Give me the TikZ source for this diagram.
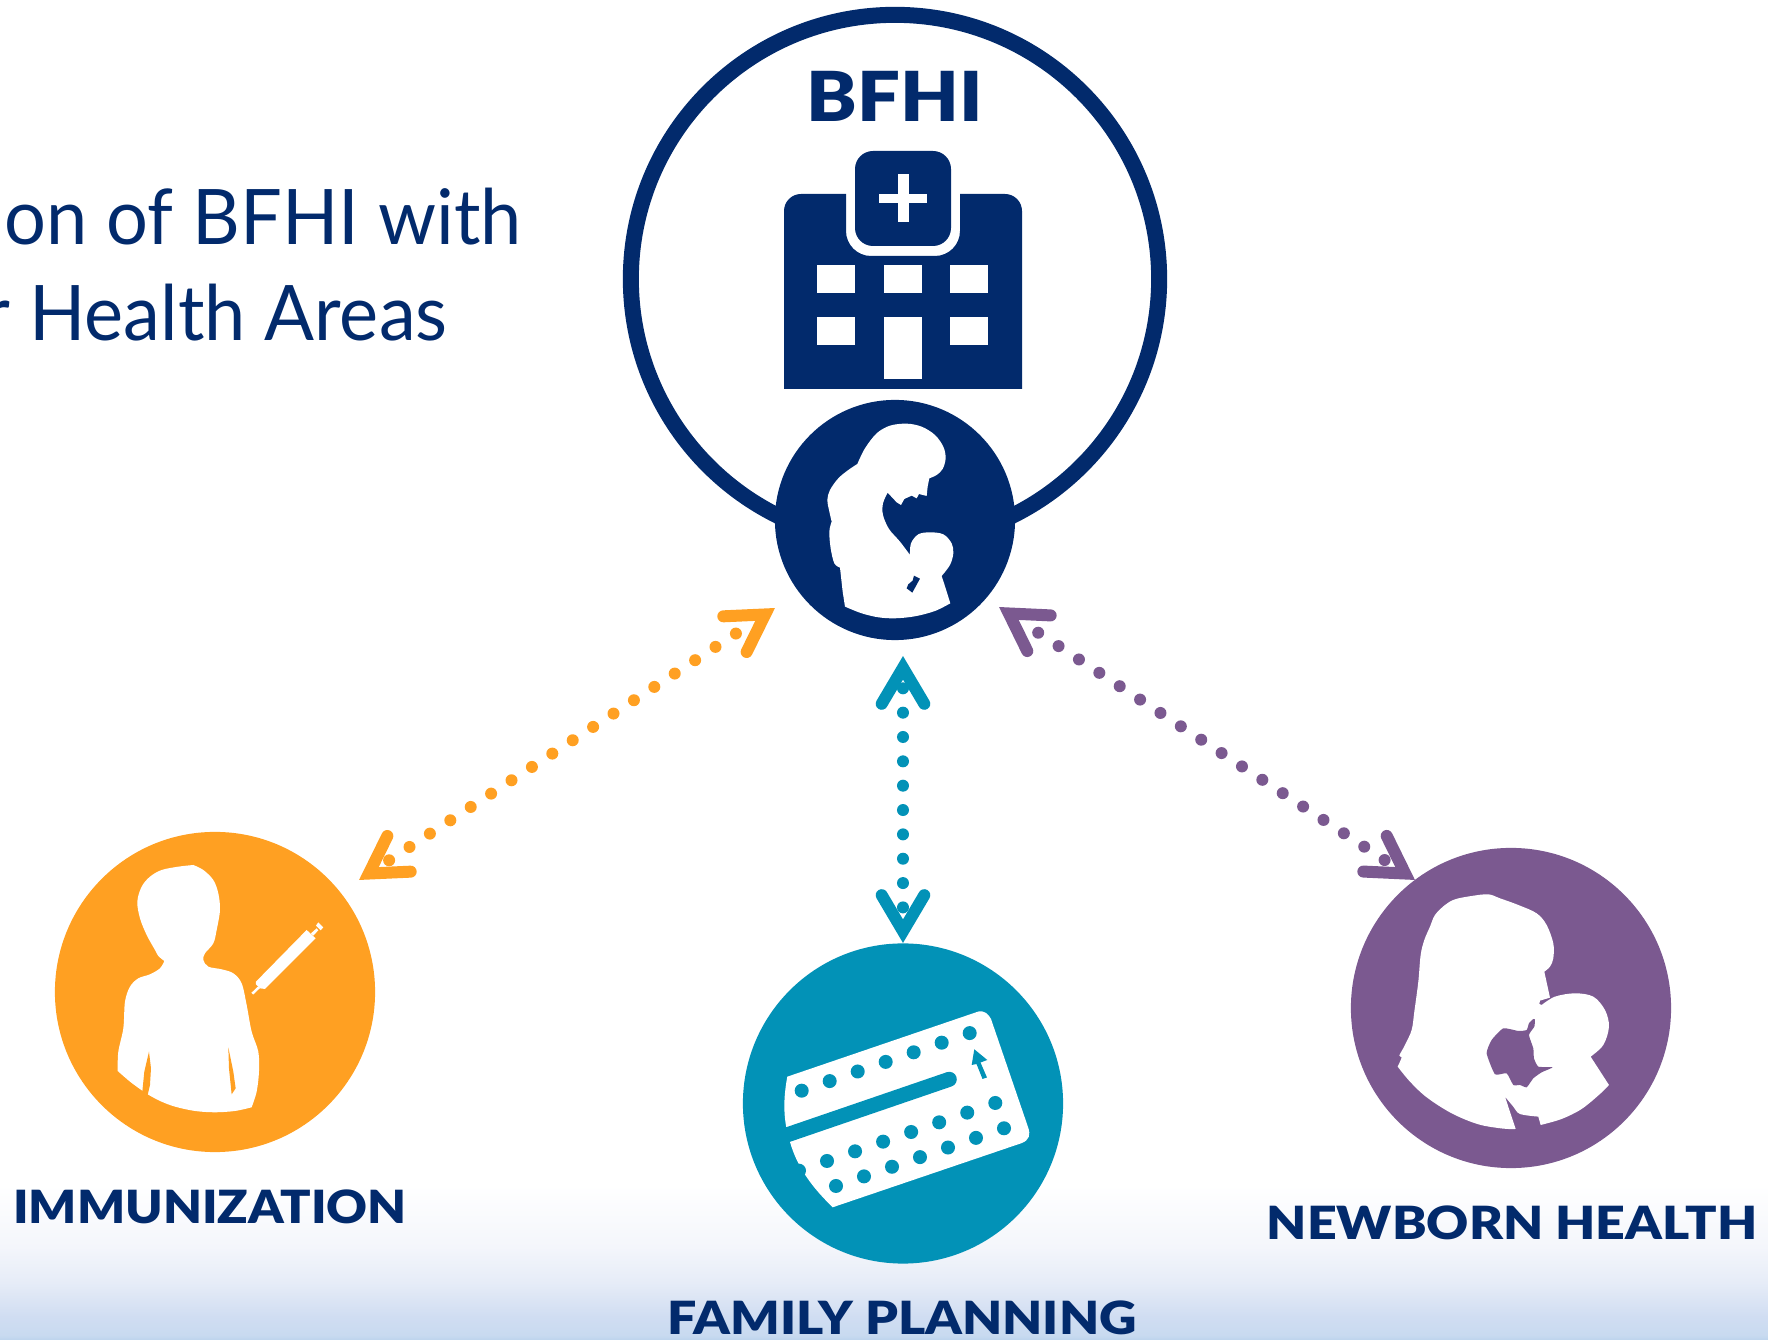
\documentclass[tikz,border=0pt]{standalone}
\usepackage{fontspec}
\usetikzlibrary{arrows.meta,positioning}
\setmainfont[FakeStretch=0.964]{Lato}
\newfontfamily\heavyfont[FakeStretch=1.1]{Lato Black}
\newfontfamily\wideheavyfont[FakeStretch=1.135]{Lato Black}
\definecolor{navyblue}{HTML}{022A6C}
\definecolor{orangefill}{HTML}{FFA022}
\definecolor{tealfill}{HTML}{0292B7}
\definecolor{purplefill}{HTML}{7B5990}
\definecolor{fadea}{HTML}{F4F6FB}
\definecolor{fadeb}{HTML}{E6ECF7}
\definecolor{fadec}{HTML}{D0DDF2}
\definecolor{faded}{HTML}{C8DAF0}
\definecolor{fadee}{HTML}{BCD3EC}
\pgfdeclareverticalshading{bottomfade}{100bp}{color(0bp)=(fadee); color(25bp)=(fadee); color(26.5bp)=(faded); color(32.5bp)=(fadec); color(43.5bp)=(fadeb); color(55bp)=(fadea); color(75bp)=(white); color(100bp)=(white)}
\pgfdeclarearrow{
	name = Chevron,
	setup code = {
		\pgfarrowssettipend{0pt}
		\pgfarrowssetlineend{-9.19pt}
		\pgfarrowssetbackend{-15.3pt}
		\pgfarrowssetvisualbackend{-15.3pt}
		\pgfarrowshullpoint{0pt}{0pt}
		\pgfarrowsupperhullpoint{-15.3pt}{7.8pt}
	},
	drawing code = {
		\pgfsetdash{}{+0pt}
		\pgfsetroundcap
		\pgfsetmiterjoin
		\pgfsetlinewidth{3.41pt}
		\pgfpathmoveto{\pgfqpoint{-13.6pt}{6.06pt}}
		\pgfpathlineto{\pgfqpoint{-3.36pt}{0pt}}
		\pgfpathlineto{\pgfqpoint{-13.6pt}{-6.06pt}}
		\pgfusepathqstroke
	},
}
\tikzset{%
	disc/.style      = {circle, minimum size=3.2cm, inner sep=0pt},
	titletext/.style = {text=navyblue, inner sep=0pt, anchor=base west, font=\fontsize{21.8}{26}\selectfont},
	areatext/.style  = {text=navyblue, inner sep=0pt, anchor=base, font=\wideheavyfont\fontsize{13}{16}\selectfont},
	link/.style      = {line width=1.2mm, line cap=round, dash pattern=on 0pt off 2.436mm, <->, >=Chevron},
	outline/.style   = {smooth, tension=0.55},
}
\begin{document}
\begin{tikzpicture}[x=0.01cm,y=-0.01cm]
	\useasboundingbox (0,0) rectangle (1768,1340);
	\shade[shading=bottomfade] (0,1185) rectangle (1768,1340);
	
	\node[titletext] (titleone) at (4,245) {on of BFHI with};
	\node[titletext] (titletwo) at (-17,341) {r Health Areas};
	
	% BFHI ring with hospital
	\node[circle, draw=navyblue, line width=1.6mm, minimum size=5.28cm, inner sep=0pt] (ring) at (895,279) {};
	\node[areatext, font=\heavyfont\fontsize{19.6}{24}\selectfont] (bfhi) at (895,122) {BFHI};
	\fill[navyblue] (784,389) [rounded corners=1.7mm] -- (784,194) [sharp corners] -- (846,194) [rounded corners=2.5mm] -- (846,256) -- (960,256) [sharp corners] -- (960,194) [rounded corners=1.7mm] -- (1022,194) [sharp corners] -- (1022,389) -- cycle;
	\fill[white] (855,194) rectangle (951,250);
	\fill[navyblue, rounded corners=1.8mm] (855,151) rectangle (951,246);
	\fill[white] (879,194) rectangle (927,203);
	\fill[white] (898,174) rectangle (908.5,222);
	\foreach \x in {817,884,950} \fill[white] (\x,265) rectangle ++(38,28);
	\foreach \x in {817,950} \fill[white] (\x,317) rectangle ++(38,28);
	\fill[white] (884,317) rectangle (922,379);
	
	% mother and child disc
	\node[disc, fill=navyblue, minimum size=2.4cm] (mother) at (895,520) {};
	\begin{scope}[shift={(815,415)},scale=0.3333]
		\fill[white] plot[outline] coordinates {(127,147) (150,100) (185,55) (225,32) (275,26) (320,35) (360,60) (385,95) (392,130) (383,162) (365,180) (343,190)}
			-- (338,215) -- (335,243) -- (312,237) -- (305,250) -- (290,242) -- (268,252) -- (258,270) -- (245,262) -- (218,233)
			-- plot[outline] coordinates {(218,233) (204,265) (204,300) (222,342) (255,380) (285,420)}
			-- plot[outline] coordinates {(285,420) (288,385) (310,358) (345,352) (385,358) (410,385) (415,415) (405,450) (380,483)}
			-- (392,520) -- (406,565)
			-- plot[outline] coordinates {(406,565) (360,588) (300,604) (240,610) (190,607) (140,595) (90,575)}
			-- (83,530) -- (75,458)
			-- plot[outline] coordinates {(75,458) (58,445) (47,400) (43,350) (50,320)}
			-- plot[outline] coordinates {(50,320) (42,285) (37,255) (45,225) (70,190) (100,165) (127,147)} -- cycle;
		\fill[navyblue] (297,482) -- (315,491) -- (292,533) -- (275,520) -- (280,508) -- (293,497) -- cycle;
	\end{scope}
	
	% immunization disc
	\node[disc, fill=orangefill] (immunization) at (215,992) {};
	\begin{scope}[shift={(105,855)},scale=0.3333]
		\fill[white] plot[outline] coordinates {(265,30) (295,45) (325,75) (340,115) (345,165) (335,225) (325,265) (300,295) (295,315) (310,335) (350,343) (385,355) (410,385) (425,450) (440,530) (460,590) (462,650) (455,710) (440,757)}
			-- plot[outline] coordinates {(440,757) (390,768) (330,772) (270,768) (210,755) (165,738) (128,718) (113,708) (75,680) (38,648)}
			-- plot[outline] coordinates {(38,648) (40,590) (55,520) (60,440) (75,395) (100,370) (135,358) (165,340) (178,318)}
			-- plot[outline] coordinates {(178,318) (160,303) (150,285) (125,240) (105,190) (97,140) (110,95) (135,65) (170,45) (220,35) (265,30)} -- cycle;
		\fill[orangefill] (132,590) -- (138,640) -- (135,690) -- (128,720) -- (112,710) -- (118,650) -- cycle;
		\fill[orangefill] (370,577) -- (372,640) -- (380,718) -- (392,700) -- (385,650) -- cycle;
		% syringe
		\fill[white] (453,380) -- (605,225) -- (632,250) -- (480,402) -- (465,400) -- (453,388) -- cycle;
		\fill[white] (618,235) -- (635,220) -- (640,226) -- (625,242) -- cycle;
		\fill[white] (633,212) -- (640,202) -- (655,217) -- (647,226) -- cycle;
		\draw[white, line width=0.25mm] (442,416) -- (462,397);
	\end{scope}
	
	% family planning disc
	\node[disc, fill=tealfill] (planning) at (903,1103.5) {};
	\fill[white] (787.3,1076.7) -- (977,1012) .. controls (984,1009) and (989,1015) .. (991,1019) -- (1028,1127) .. controls (1031,1135) and (1029,1140) .. (1022,1143) -- (832.7,1207.3) .. controls (815,1190) and (798,1170) .. (790,1142) .. controls (783,1120) and (783,1100) .. (787.3,1076.7) -- cycle;
	\draw[tealfill, line width=1.5mm, line cap=round] (778,1138) -- (949.3,1079.3);
	\foreach \i in {0,...,6} {
		\fill[tealfill] ({801.7+28*\i},{1090.7-9.6*\i}) circle (0.7mm);
		\fill[tealfill] ({827+28.05*\i},{1161-9.67*\i}) circle (0.7mm);
		\fill[tealfill] ({836+28*\i},{1186-9.62*\i}) circle (0.7mm);
	}
	\fill[tealfill] (799,1170.7) circle (0.7mm);
	\fill[tealfill] (974.3,1049.3) -- (987.3,1060) -- (980.5,1062.5) -- (987,1077.5) -- (982.5,1079) -- (976.5,1064) -- (971.7,1065) -- cycle;
	
	% newborn disc
	\node[disc, fill=purplefill] (newborn) at (1511,1008) {};
	\begin{scope}[shift={(1385,885)},scale=0.3333]
		\fill[white] plot[outline] coordinates {(38,545) (50,517) (43,512) (60,480) (80,435) (88,380) (100,290) (107,210) (118,165) (135,125) (150,90) (180,60) (210,43) (260,33) (310,28) (345,40) (400,60) (455,85) (485,120) (505,175) (505,220) (495,245) (478,260)}
			-- (495,338) -- (465,347) -- (463,357) -- (470,360)
			-- plot[outline] coordinates {(470,360) (510,335) (570,325) (625,335) (660,375) (672,425) (655,480) (617,515)}
			-- (672,600)
			-- plot[outline] coordinates {(672,600) (645,627) (590,672) (530,702) (467,720)}
			-- (460,695)
			-- plot[outline] coordinates {(460,695) (405,687) (385,665) (360,635)}
			-- (392,732)
			-- plot[outline] coordinates {(392,732) (355,731) (280,718) (200,685) (125,637) (75,590) (38,545)} -- cycle;
		\fill[purplefill] plot[smooth cycle,tension=0.3] coordinates {(445,402) (450,403) (448,425) (432,450) (445,490) (447,520) (460,545) (503,547) (470,562) (445,580) (425,607) (405,600) (385,600) (365,565) (330,568) (305,505) (320,465) (355,430) (400,438) (425,435) (432,415)};
	\end{scope}
	
	% area labels
	\node[areatext, font=\heavyfont\fontsize{13}{16}\selectfont] (immlabel) at (210,1224) {IMMUNIZATION};
	\node[areatext] (planlabel) at (902,1335) {FAMILY PLANNING};
	\node[areatext] (bornlabel) at (1512,1240) {NEWBORN HEALTH};
	
	% links between mother disc and area discs
	\coordinate (motherleft) at (775,608);
	\coordinate (motherdown) at (903,656);
	\coordinate (motherright) at (999,607);
	\coordinate (immtip) at (359,880);
	\coordinate (plantip) at (903,943);
	\coordinate (borntip) at (1415,880);
	\draw[link, orangefill, dash phase=2.07mm] (immtip) -- (motherleft);
	\draw[link, tealfill, dash pattern=on 0pt off 2.433mm] (motherdown) -- (plantip);
	\draw[link, purplefill, dash phase=0.98mm] (motherright) -- (borntip);
\end{tikzpicture}
\end{document}
